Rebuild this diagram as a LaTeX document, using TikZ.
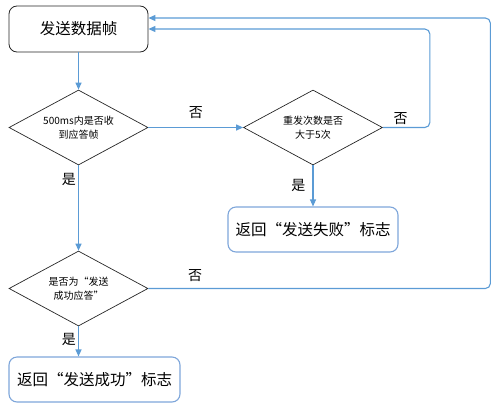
\documentclass[tikz,border=0pt]{standalone}
\usepackage{fontspec}
\setmainfont{Noto Sans CJK SC}
\usepackage{tikz}
\usetikzlibrary{arrows.meta,shapes.geometric}
\definecolor{lnblue}{HTML}{5B9BD5}
\definecolor{bxblue}{HTML}{7EA6DA}

\begin{document}
\begin{tikzpicture}[x=1pt, y=-1pt, line width=0.8pt,
  flow/.style={draw=lnblue, line width=1.1pt, -{Triangle[length=7pt,width=6pt]}},
  decision/.style={diamond, draw=black!85, line width=0.7pt, aspect=1.85, inner sep=0pt,
    minimum width=139pt, minimum height=75pt, align=center, font=\fontsize{10}{13.5}\selectfont},
  flag/.style={draw=bxblue, rounded corners=8pt, line width=1.1pt, minimum height=45pt,
    font=\fontsize{15.5}{18}\selectfont},
  yesno/.style={font=\fontsize{14}{16}\selectfont, inner sep=2pt}]
  \useasboundingbox (0,0) rectangle (502,407);
  % boxes and decisions
  \node[draw=black!85, rounded corners=8pt, line width=0.8pt, minimum width=139pt, minimum height=46pt,
    font=\fontsize{15.5}{18}\selectfont] (send) at (78.5,29) {发送数据帧};
  \node[decision] (ack) at (78.5,127.5) {500ms内是否收\\到应答帧};
  \node[decision] (retry) at (313,127.5) {重发次数是否\\大于5次};
  \node[flag, minimum width=170pt] (fail) at (313,229.5) {返回“发送失败”标志};
  \node[decision] (ok) at (78.5,288.5) {是否为“发送\\成功应答”};
  \node[flag, minimum width=171pt] (succ) at (94.5,379.5) {返回“发送成功”标志};
  \coordinate (sendhi) at ([yshift=11pt]send.east);
  % connectors
  \draw[flow] (send) -- (ack);
  \draw[flow] (ack) -- node[yesno, above=6pt] {否} (retry);
  \draw[flow, rounded corners=5pt] (retry.east) -- node[yesno, above, pos=.38] {否} ++(47,0) |- (send.east);
  \draw[flow] (retry) -- node[yesno, left=5pt] {是} (fail);
  \draw[flow] (ack) -- node[yesno, left, pos=.17] {是} (ok);
  \draw[flow, rounded corners=5pt] (ok.east) -- node[yesno, above=4pt, pos=.137] {否} ++(342,0) |- (sendhi);
  \draw[flow] (ok.south) -- node[yesno, left, pos=.45] {是} (ok.south |- succ.north);
\end{tikzpicture}
\end{document}
